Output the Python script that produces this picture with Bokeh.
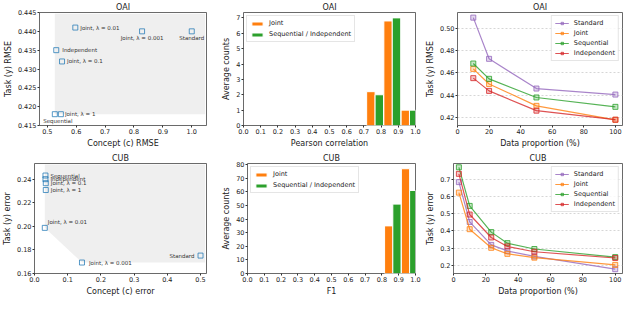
from bokeh.plotting import figure
from bokeh.layouts import row, column
from bokeh.models import Range1d, FixedTicker, PrintfTickFormatter, ColumnDataSource
from bokeh.core.properties import value
from bokeh.transform import dodge
from bokeh.embed import file_html
from bokeh.resources import INLINE

FONT = "DejaVu Sans"

# ---------------- data ----------------
methods = ["Standard", "Joint, λ = 0.001", "Joint, λ = 0.01", "Joint, λ = 0.1",
           "Joint, λ = 1", "Sequential", "Independent"]
oai_concept_rmse = [1.000, 0.828, 0.597, 0.551, 0.547, 0.526, 0.531]
oai_task_rmse = [0.4400, 0.4400, 0.4410, 0.4320, 0.4180, 0.4180, 0.4350]
cub_concept_err = [0.500, 0.143, 0.031, 0.034, 0.034, 0.033, 0.033]
cub_task_err = [0.1752, 0.1693, 0.1987, 0.2366, 0.2308, 0.2431, 0.2400]

hist_series = ["Joint", "Sequential / Independent"]
oai_bin_centers = [0.765, 0.865, 0.965]
oai_joint_counts = [2.2, 6.8, 1.0]
oai_seq_counts = [2.0, 7.0, 1.0]
cub_bin_centers = [0.865, 0.965]
cub_joint_counts = [35, 77]
cub_seq_counts = [51, 61]

line_series = ["Standard", "Joint", "Sequential", "Independent"]
oai_prop = [10, 20, 50, 100]
oai_lines = {
    "Standard": [0.5094, 0.4725, 0.4459, 0.4405],
    "Joint": [0.4635, 0.4500, 0.4304, 0.4179],
    "Sequential": [0.4683, 0.4546, 0.4379, 0.4295],
    "Independent": [0.4552, 0.4438, 0.4261, 0.4180],
}
cub_prop = [3.33, 10, 23.33, 33.33, 50, 100]
cub_lines = {
    "Standard": [0.683, 0.452, 0.319, 0.284, 0.252, 0.178],
    "Joint": [0.622, 0.410, 0.302, 0.267, 0.245, 0.203],
    "Sequential": [0.769, 0.545, 0.393, 0.329, 0.295, 0.248],
    "Independent": [0.731, 0.495, 0.362, 0.310, 0.279, 0.243],
}

# tick values
oai_sc_xticks = [0.5, 0.6, 0.7, 0.8, 0.9, 1.0]
oai_sc_yticks = [0.415, 0.420, 0.425, 0.430, 0.435, 0.440, 0.445]
cub_sc_xticks = [0.0, 0.1, 0.2, 0.3, 0.4, 0.5]
cub_sc_yticks = [0.16, 0.18, 0.20, 0.22, 0.24]
hist_xticks = [0.0, 0.1, 0.2, 0.3, 0.4, 0.5, 0.6, 0.7, 0.8, 0.9, 1.0]
oai_hist_yticks = [0, 1, 2, 3, 4, 5, 6, 7]
cub_hist_yticks = [0, 10, 20, 30, 40, 50, 60, 70, 80]
prop_xticks = [0, 20, 40, 60, 80, 100]
oai_line_yticks = [0.42, 0.44, 0.46, 0.48, 0.50]
cub_line_yticks = [0.2, 0.3, 0.4, 0.5, 0.6, 0.7]

# ---------------- styles ----------------
LINE_COLORS = {"Standard": "#9467bd", "Joint": "#ff7f0e",
               "Sequential": "#2ca02c", "Independent": "#d62728"}
HIST_COLORS = ["#ff7f0e", "#2ca02c"]
SC_COLOR = "#1f77b4"
SHADE = "#efefef"
TICK_FS = "6.5px"
LABEL_FS = "8px"
TITLE_FS = "8px"
LEG_FS = "6.5px"
ANN_FS = "5.5px"

# label placement per method (offset px, alignment)
oai_lab_dx = [0, 0, 5, 5, 4, 3, 6]
oai_lab_dy = [7, 7, 0, 0, 0, 7, 0]
oai_lab_al = ["center", "center", "left", "left", "left", "center", "left"]
cub_lab_dx = [-6, 7, 3, 5, 5, 5, 5]
cub_lab_dy = [0, 0, -6, 0, 0, 0, 0]
cub_lab_al = ["right", "left", "left", "left", "left", "left", "left"]


def make_fig(title, w, h, xr, yr, bl, br, bt, bb):
    p = figure(width=w, height=h, x_range=Range1d(*xr), y_range=Range1d(*yr),
               output_backend="svg", toolbar_location=None, title=title,
               min_border_left=bl, min_border_right=br, min_border_top=bt,
               min_border_bottom=bb)
    p.title.align = "center"
    p.title.text_font = FONT
    p.title.text_font_size = TITLE_FS
    p.title.text_font_style = "normal"
    p.title.text_color = "#222222"
    p.title.standoff = 1
    p.outline_line_color = "#444444"
    p.outline_line_width = 0.8
    p.xgrid.visible = False
    p.ygrid.visible = False
    p.background_fill_color = "white"
    p.border_fill_color = "white"
    return p


def style_axes(p, xlabel, ylabel, xticks, yticks, xfmt, yfmt):
    p.xaxis.axis_label = xlabel
    p.yaxis.axis_label = ylabel
    p.xaxis.ticker = FixedTicker(ticks=xticks)
    p.yaxis.ticker = FixedTicker(ticks=yticks)
    p.xaxis.formatter = PrintfTickFormatter(format=xfmt)
    p.yaxis.formatter = PrintfTickFormatter(format=yfmt)
    for ax in p.axis:
        ax.axis_label_text_font = FONT
        ax.axis_label_text_font_size = LABEL_FS
        ax.axis_label_text_font_style = "normal"
        ax.axis_label_text_color = "#222222"
        ax.major_label_text_font = FONT
        ax.major_label_text_font_size = TICK_FS
        ax.major_label_text_color = "#222222"
        ax.axis_line_color = None
        ax.major_tick_line_color = "#333333"
        ax.major_tick_out = 2
        ax.major_tick_in = 0
        ax.minor_tick_line_color = None
        ax.major_label_standoff = 1
        ax.axis_label_standoff = 2


def pareto_shade(xs, ys, xr, yr):
    pts = sorted(zip(xs, ys))
    front = []
    best = float("inf")
    for x, y in pts:
        if y < best:
            front.append((x, y))
            best = y
    top = yr[1] - (yr[1] - yr[0]) * 0.01
    right = xr[1] - (xr[1] - xr[0]) * 0.008
    px = [front[0][0]] + [f[0] for f in front] + [right, right]
    py = [top] + [f[1] for f in front] + [front[-1][1], top]
    return px, py


def scatter_panel(title, xs, ys, dx, dy, al, xr, yr, w, h, b, xlabel, ylabel, xt, yt, xf, yf):
    p = make_fig(title, w, h, xr, yr, *b)
    sx, sy = pareto_shade(xs, ys, xr, yr)
    p.patch(sx, sy, fill_color=SHADE, line_color=None)
    src = ColumnDataSource(dict(x=xs, y=ys, t=methods, dx=dx, dy=dy, al=al))
    p.scatter("x", "y", source=src, marker="square", size=5, line_color=SC_COLOR,
              line_alpha=0.75, fill_alpha=0, line_width=1)
    p.text("x", "y", text="t", source=src, x_offset="dx", y_offset="dy",
           text_align="al", text_baseline="middle", text_font=value(FONT),
           text_font_size=value(ANN_FS), text_color="#333333")
    style_axes(p, xlabel, ylabel, xt, yt, xf, yf)
    return p


def style_legend(leg, gh):
    leg.label_text_font = FONT
    leg.label_text_font_size = LEG_FS
    leg.label_text_color = "#222222"
    leg.glyph_height = gh
    leg.glyph_width = 14
    leg.label_height = 7
    leg.spacing = 2
    leg.padding = 3
    leg.margin = 3
    leg.label_standoff = 5
    leg.border_line_color = "#cccccc"
    leg.border_line_width = 0.8
    leg.background_fill_alpha = 0.85


def hist_panel(title, centers, jc, sc, yr, w, h, b, xlabel, yt):
    p = make_fig(title, w, h, (0, 1.0), yr, *b)
    src = ColumnDataSource(dict(x=centers, j=jc, s=sc))
    p.vbar(x=dodge("x", -0.0245, range=p.x_range), top="j", width=0.049, source=src,
           fill_color=HIST_COLORS[0], line_color="white", line_width=1,
           legend_label=hist_series[0])
    p.vbar(x=dodge("x", 0.0245, range=p.x_range), top="s", width=0.049, source=src,
           fill_color=HIST_COLORS[1], line_color="white", line_width=1,
           legend_label=hist_series[1])
    style_axes(p, xlabel, "Average counts", hist_xticks, yt, "%.1f", "%d")
    leg = p.legend[0]
    leg.location = "top_left"
    style_legend(leg, 5)
    leg.spacing = 3
    return p


def line_panel(title, xs, lines, yr, w, h, b, ylabel, yt, yf):
    p = make_fig(title, w, h, (0, 104.5), yr, *b)
    for name in line_series:
        c = LINE_COLORS[name]
        p.line(xs, lines[name], line_color=c, line_width=1.2, line_alpha=0.8,
               legend_label=name)
        p.scatter(xs, lines[name], marker="square", size=5, line_color=c,
                  line_alpha=0.8, fill_color=c, fill_alpha=0.25, legend_label=name)
    style_axes(p, "Data proportion (%)", ylabel, prop_xticks, yt, "%d", yf)
    p.ygrid.visible = True
    p.ygrid.ticker = FixedTicker(ticks=yt)
    p.ygrid.grid_line_color = "#cccccc"
    p.ygrid.grid_line_dash = "2 2"
    p.ygrid.grid_line_width = 0.8
    leg = p.legend[0]
    leg.location = "top_right"
    style_legend(leg, 6)
    return p


# sizes: (left, right, top, bottom) borders
W1, W2, W3 = 219, 204, 201
H1, H2 = 150, 148
B1 = [(32, 13, 11, 21), (22, 8, 11, 21), (29, 2, 11, 21)]
B2 = [(32, 13, 13, 21), (22, 8, 13, 21), (29, 2, 13, 21)]

p1 = scatter_panel("OAI", oai_concept_rmse, oai_task_rmse, oai_lab_dx, oai_lab_dy, oai_lab_al,
                   (0.473, 1.051), (0.415, 0.445), W1, H1, B1[0],
                   "Concept (c) RMSE", "Task (y) RMSE", oai_sc_xticks, oai_sc_yticks, "%.1f", "%.3f")
p4 = scatter_panel("CUB", cub_concept_err, cub_task_err, cub_lab_dx, cub_lab_dy, cub_lab_al,
                   (0.0, 0.518), (0.16, 0.2533), W1, H2, B2[0],
                   "Concept (c) error", "Task (y) error", cub_sc_xticks, cub_sc_yticks, "%.1f", "%.2f")
p2 = hist_panel("OAI", oai_bin_centers, oai_joint_counts, oai_seq_counts, (0, 7.35), W2, H1, B1[1],
                "Pearson correlation", oai_hist_yticks)
p5 = hist_panel("CUB", cub_bin_centers, cub_joint_counts, cub_seq_counts, (0, 80.85), W2, H2, B2[1],
                "F1", cub_hist_yticks)
p3 = line_panel("OAI", oai_prop, oai_lines, (0.4128, 0.5140), W3, H1, B1[2],
                "Task (y) RMSE", oai_line_yticks, "%.2f")
p6 = line_panel("CUB", cub_prop, cub_lines, (0.153, 0.791), W3, H2, B2[2],
                "Task (y) error", cub_line_yticks, "%.1f")

layout = column(row(p1, p2, p3), row(p4, p5, p6))
open("out.html", "w").write(file_html(layout, INLINE))
